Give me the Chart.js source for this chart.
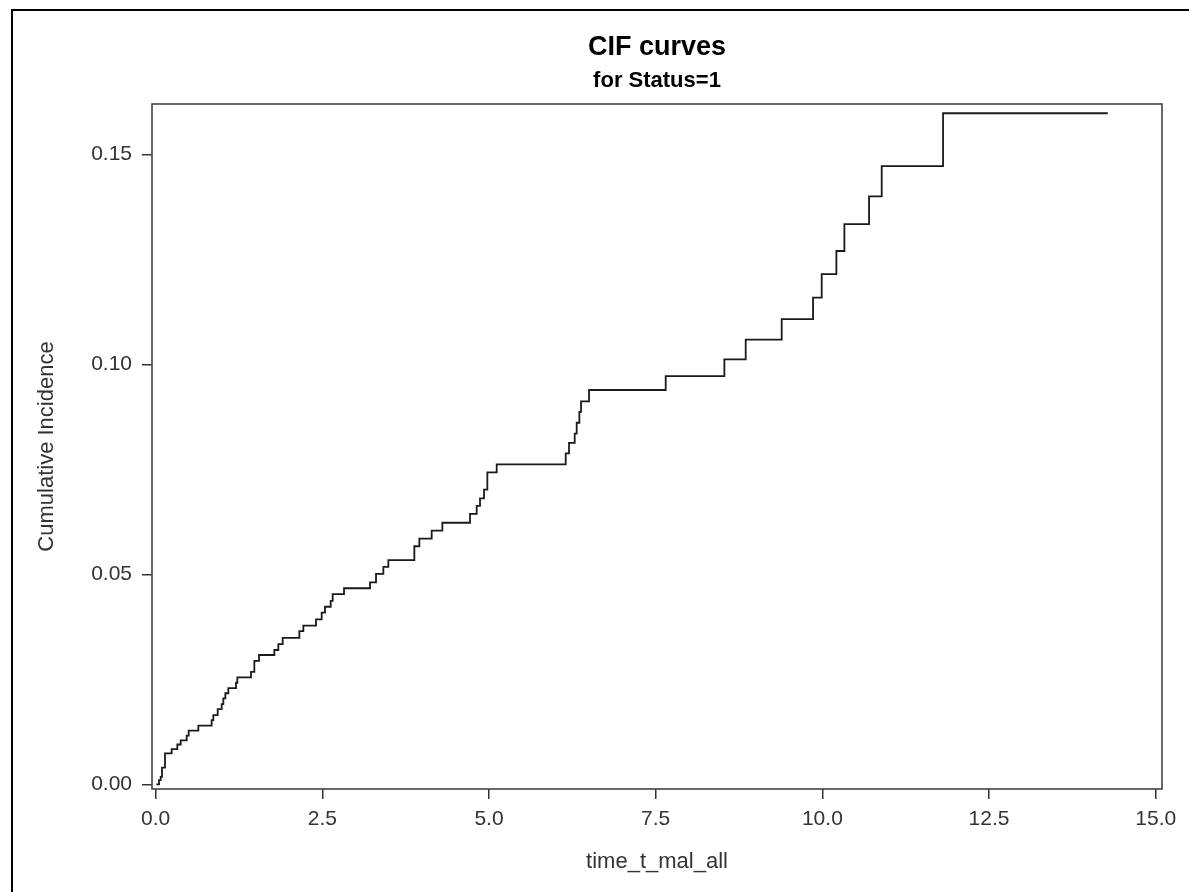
<!DOCTYPE html>
<html lang="en">
  <head>
    <meta charset="UTF-8" />
    <title>CIF curves</title>
    <script src="https://cdn.jsdelivr.net/npm/chart.js"></script>
    <style>
      * {
        margin: 0;
        padding: 0;
        box-sizing: border-box;
      }
      body {
        background: #ffffff;
        width: 1189px;
        height: 892px;
        overflow: hidden;
      }
    </style>
  </head>
  <body>
    <canvas id="cifChart" width="1189" height="892"></canvas>
    <script>
      // step times (time_t_mal_all) and cumulative incidence after each step
      const times = [
        0.01, 0.05, 0.075, 0.095, 0.14, 0.24, 0.325, 0.375, 0.465, 0.495,
        0.64, 0.84, 0.865, 0.93, 0.99, 1.015, 1.045, 1.09, 1.205, 1.225,
        1.43, 1.48, 1.55, 1.78, 1.84, 1.905, 2.155, 2.215, 2.405, 2.49,
        2.54, 2.625, 2.655, 2.825, 3.215, 3.305, 3.415, 3.49, 3.88, 3.955,
        4.14, 4.3, 4.715, 4.815, 4.865, 4.925, 4.975, 5.115, 6.15, 6.2,
        6.285, 6.315, 6.355, 6.38, 6.5, 7.65, 8.53, 8.85, 9.39, 9.86,
        9.99, 10.21, 10.33, 10.7, 10.89, 11.81, 14.28,
      ];
      const incidence = [
        0, 0.001, 0.0018, 0.004, 0.0074, 0.0084, 0.0095, 0.0105, 0.0116, 0.0128,
        0.014, 0.0153, 0.0165, 0.0179, 0.0191, 0.0205, 0.0217, 0.0229, 0.0242, 0.0255,
        0.0268, 0.0294, 0.0308, 0.032, 0.0334, 0.0349, 0.0365, 0.0378, 0.0393, 0.0409,
        0.0423, 0.0437, 0.0453, 0.0467, 0.0481, 0.0501, 0.0518, 0.0534, 0.0567, 0.0585,
        0.0604, 0.0623, 0.0644, 0.0663, 0.0681, 0.0702, 0.0743, 0.0762, 0.0788, 0.0813,
        0.0835, 0.0861, 0.0887, 0.0912, 0.0939, 0.0972, 0.1012, 0.1059, 0.1108, 0.1159,
        0.1215, 0.127, 0.1334, 0.14, 0.1472, 0.1598, 0.1598,
      ];
      const xTicks = [0, 2.5, 5, 7.5, 10, 12.5, 15];
      const yTicks = [0, 0.05, 0.1, 0.15];

      const points = times.map((t, i) => ({ x: t, y: incidence[i] }));

      // frame round the plot area + the outer page border
      const framePlugin = {
        id: "frame",
        afterDraw(chart) {
          const { ctx, chartArea: a } = chart;
          ctx.save();
          ctx.strokeStyle = "#444";
          ctx.lineWidth = 1.6;
          ctx.strokeRect(a.left, a.top, a.right - a.left, a.bottom - a.top);
          ctx.strokeStyle = "#000";
          ctx.lineWidth = 2;
          ctx.beginPath();
          ctx.moveTo(12, 892);
          ctx.lineTo(12, 10);
          ctx.lineTo(1189, 10);
          ctx.stroke();
          ctx.restore();
        },
      };

      const fam = "'Liberation Sans', Arial, sans-serif";
      const tickFont = { family: fam, size: 21 };

      new Chart(document.getElementById("cifChart"), {
        type: "line",
        data: {
          datasets: [
            {
              data: points,
              stepped: true,
              borderColor: "#1a1a1a",
              borderWidth: 1.8,
              pointRadius: 0,
              fill: false,
            },
          ],
        },
        options: {
          responsive: false,
          animation: false,
          devicePixelRatio: 1,
          layout: { padding: { left: 0, right: 27, top: 0, bottom: 0 } },
          plugins: {
            legend: { display: false },
            tooltip: { enabled: false },
            title: {
              display: true,
              fullSize: false,
              text: "CIF curves",
              color: "#000",
              font: { family: fam, size: 27, weight: "bold", lineHeight: 1.2 },
              padding: { top: 31.3, bottom: 0 },
            },
            subtitle: {
              display: true,
              fullSize: false,
              text: "for Status=1",
              color: "#000",
              font: { family: fam, size: 22, weight: "bold", lineHeight: 1.2 },
              padding: { top: 3.6, bottom: 10.3 },
            },
          },
          scales: {
            x: {
              type: "linear",
              min: -0.055,
              max: 15.094,
              afterBuildTicks: (scale) => {
                scale.ticks = xTicks.map((v) => ({ value: v }));
              },
              afterFit: (scale) => {
                scale.height = 103;
              },
              border: { display: false },
              grid: {
                drawOnChartArea: false,
                drawTicks: true,
                tickLength: 10,
                color: "#333",
                lineWidth: 1.5,
              },
              ticks: {
                color: "#333",
                font: tickFont,
                padding: 8,
                maxRotation: 0,
                callback: (v) => Number(v).toFixed(1),
              },
              title: {
                display: true,
                text: "time_t_mal_all",
                color: "#333",
                font: { family: fam, size: 22 },
                padding: { top: 0, bottom: 16.8 },
              },
            },
            y: {
              type: "linear",
              min: -0.0011,
              max: 0.162,
              afterBuildTicks: (scale) => {
                scale.ticks = yTicks.map((v) => ({ value: v }));
              },
              afterFit: (scale) => {
                scale.width = 152;
              },
              border: { display: false },
              grid: {
                drawOnChartArea: false,
                drawTicks: true,
                tickLength: 10,
                color: "#333",
                lineWidth: 1.5,
              },
              ticks: {
                color: "#333",
                font: tickFont,
                padding: 10,
                callback: (v) => Number(v).toFixed(2),
              },
              title: {
                display: true,
                text: "Cumulative Incidence",
                color: "#333",
                font: { family: fam, size: 22 },
                padding: { top: 33.8, bottom: 0 },
              },
            },
          },
        },
        plugins: [framePlugin],
      });
    </script>
  </body>
</html>
